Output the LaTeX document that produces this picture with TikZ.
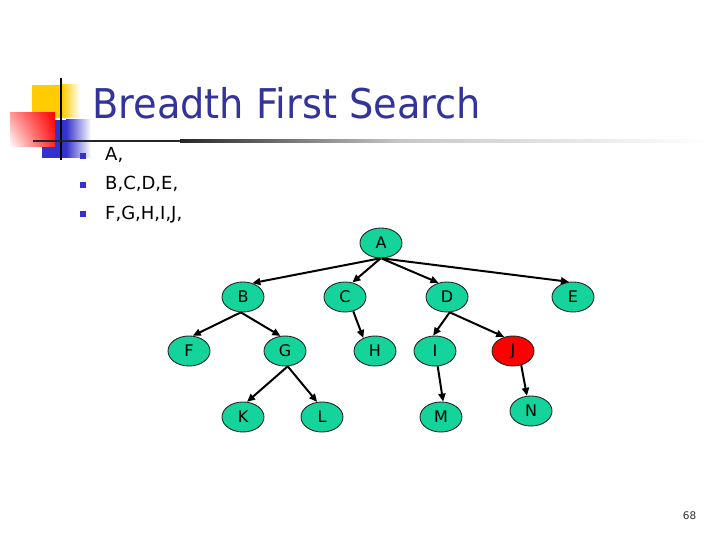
\documentclass[tikz,border=0pt]{standalone}
\usepackage{fontspec}
\setmainfont{DejaVu Sans}
\usetikzlibrary{shapes.geometric,arrows.meta,shadings}
\definecolor{titleblue}{RGB}{51,51,153}
\definecolor{bulblue}{RGB}{51,51,204}
\definecolor{decoyellow}{RGB}{255,204,0}
\definecolor{decored}{RGB}{255,0,0}
\definecolor{nodegreen}{RGB}{20,212,155}
\definecolor{nodered}{RGB}{255,0,0}
\begin{document}
\begin{tikzpicture}[x=1pt,y=-1pt,
  nd/.style={ellipse, draw=black!85, line width=0.9pt, fill=nodegreen,
    minimum width=42pt, minimum height=30pt, inner sep=0pt,
    font=\fontsize{16}{16}\selectfont},
  arr/.style={line width=2pt, -{Triangle[length=8pt,width=7pt]}},
  bul/.style={rectangle, fill=bulblue, minimum size=5.5pt, inner sep=0pt},
  item/.style={anchor=base west, font=\fontsize{18}{18}\selectfont}]
\useasboundingbox (0,0) rectangle (720,540);
\fill[white] (0,0) rectangle (720,540);
% decoration
\fill[decoyellow] (32,85) rectangle (62,118);
\shade[left color=decoyellow, right color=white] (62,85) rectangle (80,118);
\fill[bulblue] (42,120) rectangle (66,158);
\shade[left color=bulblue, right color=white] (66,120) rectangle (91,158);
\shade[upper right=decored, lower left=white, upper left=decored!40, lower right=decored!85] (10,113) rectangle (55,147);
\draw[black, line width=2pt] (61,78) -- (61,160);
\draw[black!85, line width=2.4pt] (33,141) -- (181,141);
\shade[left color=black!85, right color=black!22] (180,139.8) rectangle (400,142.2);
\shade[left color=black!22, right color=white] (400,139.8) rectangle (710,142.2);
% title
\node[anchor=base west, inner sep=0pt, text=titleblue, font=\fontsize{41}{41}\selectfont] (title) at (92,119) {\scalebox{0.935}[1]{Breadth First Search}};
% bullets
\node[bul] (b1) at (83,156) {};
\node[bul] (b2) at (83,185) {};
\node[bul] (b3) at (83,214) {};
\node[item, inner sep=0pt] (t1) at (105,161) {A,};
\node[item, inner sep=0pt] (t2) at (105,190) {B,C,D,E,};
\node[item, inner sep=0pt] (t3) at (105,219) {F,G,H,I,J,};
% tree
\node[nd] (A) at (381,243) {A};
\node[nd] (B) at (243,297) {B};
\node[nd] (C) at (345,297) {C};
\node[nd] (D) at (447,297) {D};
\node[nd] (E) at (573,297) {E};
\node[nd] (F) at (189,351) {F};
\node[nd] (G) at (285,351) {G};
\node[nd] (H) at (375,351) {H};
\node[nd] (I) at (435,351) {I};
\node[nd, fill=nodered] (J) at (513,351) {J};
\node[nd] (K) at (243,417) {K};
\node[nd] (L) at (322,417) {L};
\node[nd] (M) at (441,417) {M};
\node[nd] (N) at (531,411) {N};
\draw[arr] (A.265) -- (B.56);
\draw[arr] (A.268) -- (C.63);
\draw[arr] (A.272) -- (D.121);
\draw[arr] (A.275) -- (E.105);
\draw[arr] (B.262) -- (F.76);
\draw[arr] (B.262) -- (G.107);
\draw[arr] (C.300) -- (H.132);
\draw[arr] (D.280) -- (I.97);
\draw[arr] (D.280) -- (J.122);
\draw[arr] (G.280) -- (K.75);
\draw[arr] (G.280) -- (L.108);
\draw[arr] (I.280) -- (M.82);
\draw[arr] (J.300) -- (N.105);
% page number
\node[font=\fontsize{10.5}{10.5}\selectfont, text=black!80] (pg) at (689.5,516) {68};
\end{tikzpicture}
\end{document}
